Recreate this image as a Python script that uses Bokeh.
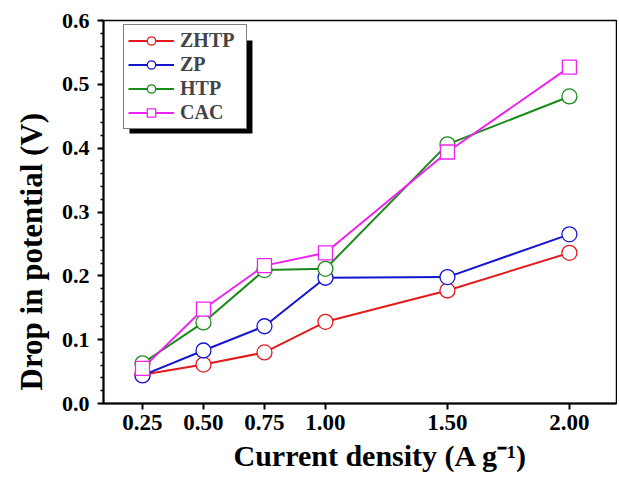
from bokeh.plotting import figure
from bokeh.embed import file_html
from bokeh.resources import INLINE
from bokeh.models import FixedTicker, Legend, LegendItem, BoxAnnotation, Range1d, Title

current = [0.25, 0.50, 0.75, 1.00, 1.50, 2.00]
x_tick_labels = ["0.25", "0.50", "0.75", "1.00", "1.50", "2.00"]
y_ticks = [0.0, 0.1, 0.2, 0.3, 0.4, 0.5, 0.6]
y_tick_labels = ["0.0", "0.1", "0.2", "0.3", "0.4", "0.5", "0.6"]

zhtp = [0.045, 0.061, 0.080, 0.128, 0.177, 0.236]
zp = [0.044, 0.083, 0.121, 0.197, 0.198, 0.265]
htp = [0.063, 0.127, 0.209, 0.211, 0.406, 0.481]
cac = [0.055, 0.148, 0.216, 0.236, 0.394, 0.527]

x_title = "Current density (A g\u207b\u00b9)"
y_title = "Drop in potential (V)"

FONT = "Liberation Serif"

p = figure(width=617, height=477, output_backend="svg", toolbar_location=None,
           x_range=Range1d(0.0902, 2.193), y_range=Range1d(0.0, 0.6),
           min_border_left=103, min_border_right=1, min_border_top=20, min_border_bottom=74)
p.frame_width = 513
p.frame_height = 383
p.xgrid.visible = False
p.ygrid.visible = False
p.outline_line_color = "black"
p.outline_line_width = 1.5
p.background_fill_color = "white"
p.border_fill_color = "white"

# drop shadow behind the legend box (decoration)
shadow = BoxAnnotation(left=0.1967, right=0.7008, top=0.5687, bottom=0.423,
                       fill_color="black", fill_alpha=1.0, line_color=None, level="overlay")
p.add_layout(shadow)

series = [("ZHTP", zhtp, "#e41a1c", "circle"),
          ("ZP", zp, "#1515d0", "circle"),
          ("HTP", htp, "#1a8a1a", "circle"),
          ("CAC", cac, "#ee22ee", "square")]
items = []
for name, vals, col, mk in series:
    r1 = p.line(current, vals, line_color=col, line_width=2)
    r2 = p.scatter(current, vals, marker=mk, size=15 if mk == "circle" else 14,
                   fill_color="white", line_color=col, line_width=1.3)
    items.append(LegendItem(label=name, renderers=[r1, r2]))

legend = Legend(items=items, location=(20, 274), border_line_color="black",
                border_line_width=1.2, background_fill_color="white", background_fill_alpha=1.0,
                glyph_width=46, glyph_height=21, spacing=1, padding=4, margin=0,
                label_width=62, label_standoff=6,
                label_text_font=FONT, label_text_font_style="bold", label_text_font_size="20px")
p.add_layout(legend)

p.xaxis.ticker = FixedTicker(ticks=current)
p.xaxis.major_label_overrides = {v: s for v, s in zip(current, x_tick_labels)}
p.yaxis.ticker = FixedTicker(ticks=y_ticks, minor_ticks=[i * 0.02 for i in range(31)])
p.yaxis.major_label_overrides = {v: s for v, s in zip(y_ticks, y_tick_labels)}

for ax in (p.xaxis[0], p.yaxis[0]):
    ax.axis_line_width = 2
    ax.major_tick_line_width = 2
    ax.major_tick_in = 0
    ax.major_tick_out = 6
    ax.minor_tick_in = 0
    ax.minor_tick_out = 3
    ax.minor_tick_line_width = 1.5
    ax.major_label_text_font = FONT
    ax.major_label_text_font_style = "bold"
    ax.major_label_text_color = "black"
p.xaxis.minor_tick_line_color = None
p.xaxis.major_label_text_font_size = "23px"
p.yaxis.major_label_text_font_size = "22px"
p.xaxis.major_label_standoff = 5
p.yaxis.major_label_standoff = 8

# axis titles, offset from the frame centre as in the original
xt = Title(text=x_title, align="left", offset=130, standoff=8, text_font=FONT,
           text_font_style="bold", text_font_size="30px", text_color="black")
yt = Title(text=y_title, align="left", offset=13, standoff=20, text_font=FONT,
           text_font_style="bold", text_font_size="31px", text_color="black")
p.add_layout(xt, "below")
p.add_layout(yt, "left")

open("out.html", "w").write(file_html(p, INLINE))
